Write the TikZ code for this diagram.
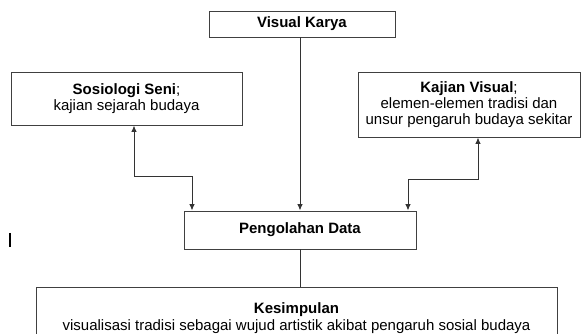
\documentclass[tikz,border=0pt]{standalone}
\usepackage{fontspec}
\setmainfont{Liberation Sans}
\usetikzlibrary{arrows.meta,positioning,calc}

\begin{document}
\begin{tikzpicture}[x=1pt,y=1pt,
		font=\fontsize{15}{16.3}\selectfont,
		box/.style={draw=black!75, line width=0.9pt, align=center, inner sep=0pt},
		link/.style={draw=black!80, line width=1pt},
		tip/.style={-{Latex[length=6.5pt,width=5.5pt]}},
		tips/.style={{Latex[length=6.5pt,width=5.5pt]}-{Latex[length=6.5pt,width=5.5pt]}}]
			\useasboundingbox (0,0) rectangle (582,334);
			
			% Top box
			\node[box, minimum width=186, minimum height=26] (visual) at (302,310) {\textbf{Visual Karya}};
			
			% Side boxes
			\node[box, minimum width=231, minimum height=53] (sosio) at (126.5,235.5)
				{\textbf{Sosiologi Seni};\\kajian sejarah budaya};
			\node[box, minimum width=222, minimum height=65] (kajian) at (469,229.5)
				{\textbf{Kajian Visual};\\elemen-elemen tradisi dan\\unsur pengaruh budaya sekitar};
			
			% Middle box
			\node[box, minimum width=232, minimum height=38] (olah) at (300,104) {\textbf{Pengolahan Data}};
			
			% Bottom box (runs past the lower edge)
			\node[box, minimum width=521, minimum height=62] (simpul) at (296.5,16)
				{\textbf{Kesimpulan}\\visualisasi tradisi sebagai wujud artistik akibat pengaruh sosial budaya};
			
			% Connectors
			\draw[link,tip] (visual.south -| olah.north) -- (olah.north);
			\draw[link,tips] ([xshift=7.5pt]sosio.south) -- ++(0,-51) -| ([xshift=-108pt]olah.north);
			\draw[link,tips] ([xshift=9pt]kajian.south) -- ++(0,-42) -| ([xshift=108pt]olah.north);
			\draw[link] (olah.south) -- (olah.south |- simpul.north);
			
			% Stray mark
			\coordinate (mark) at (10,101);
			\draw[black, line width=1.2pt] (mark) -- ++(0,-14);
		\end{tikzpicture}
\end{document}
